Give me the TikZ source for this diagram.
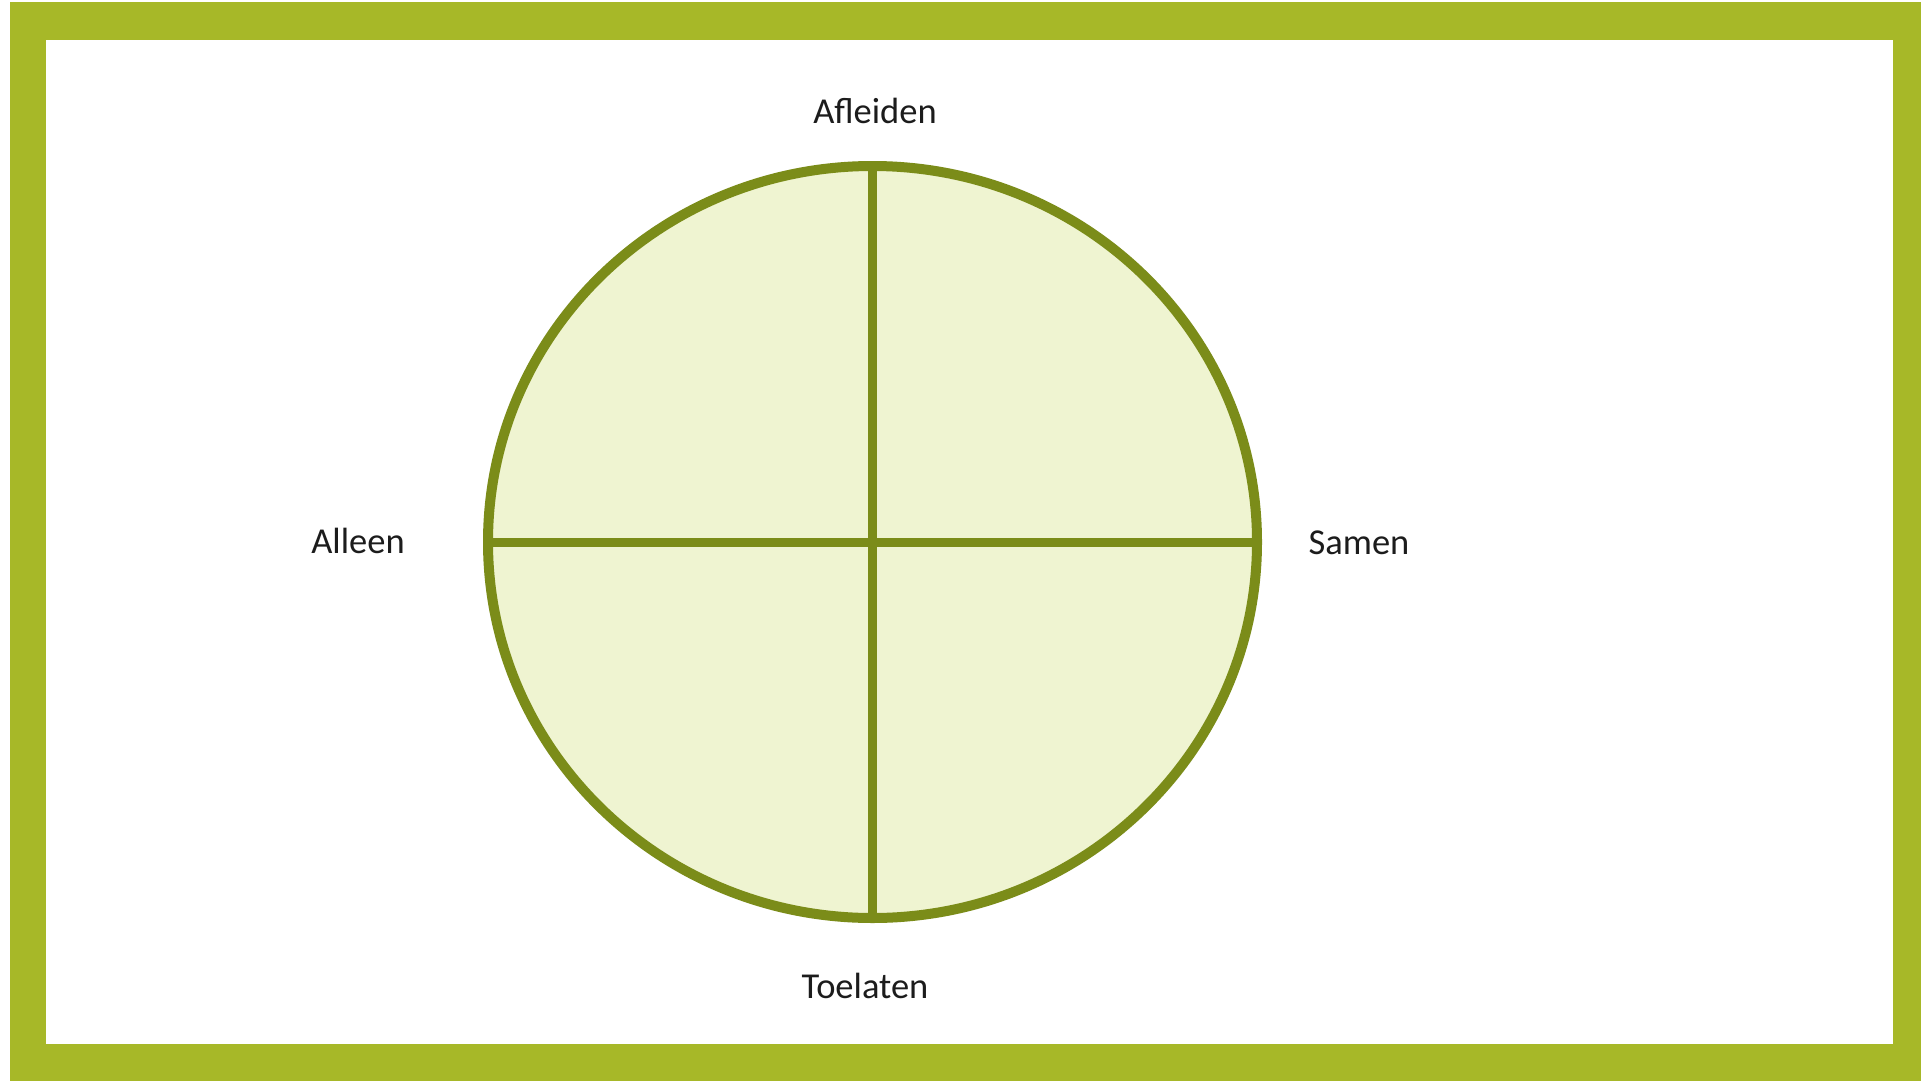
\documentclass[tikz,border=0pt]{standalone}
\usepackage{fontspec}
\setmainfont{Carlito}
\usetikzlibrary{shapes.geometric}
\definecolor{framegreen}{HTML}{A7B828}
\definecolor{olive}{HTML}{7B8C19}
\definecolor{pale}{HTML}{EFF4D1}
\definecolor{txt}{HTML}{1C1C1C}
\tikzset{
  quad/.style={ellipse, draw=olive, fill=pale, line width=10pt, inner sep=0pt, outer sep=0pt,
    minimum width=769pt, minimum height=752pt},
  divider/.style={draw=olive, line width=9pt},
  lbl/.style={anchor=base, inner sep=0pt, text=txt, font=\fontsize{36.5}{44}\selectfont}
}
\begin{document}
\begin{tikzpicture}[x=1pt,y=-1pt]
\useasboundingbox (0,0) rectangle (1921,1081);
\fill[framegreen] (10,2) rectangle (1921,1081);
\fill[white] (46,40) rectangle (1893,1044);
\node[quad] (c) at (872.5,542) {};
\draw[divider] (c.north) -- (c.south);
\draw[divider] (c.west) -- (c.east);
\node[lbl] (afl) at (875,123) {Afleiden};
\node[lbl] (all) at (358,553) {Alleen};
\node[lbl] (sam) at (1359,554) {Samen};
\node[lbl] (toe) at (865,998) {Toelaten};
\end{tikzpicture}
\end{document}
